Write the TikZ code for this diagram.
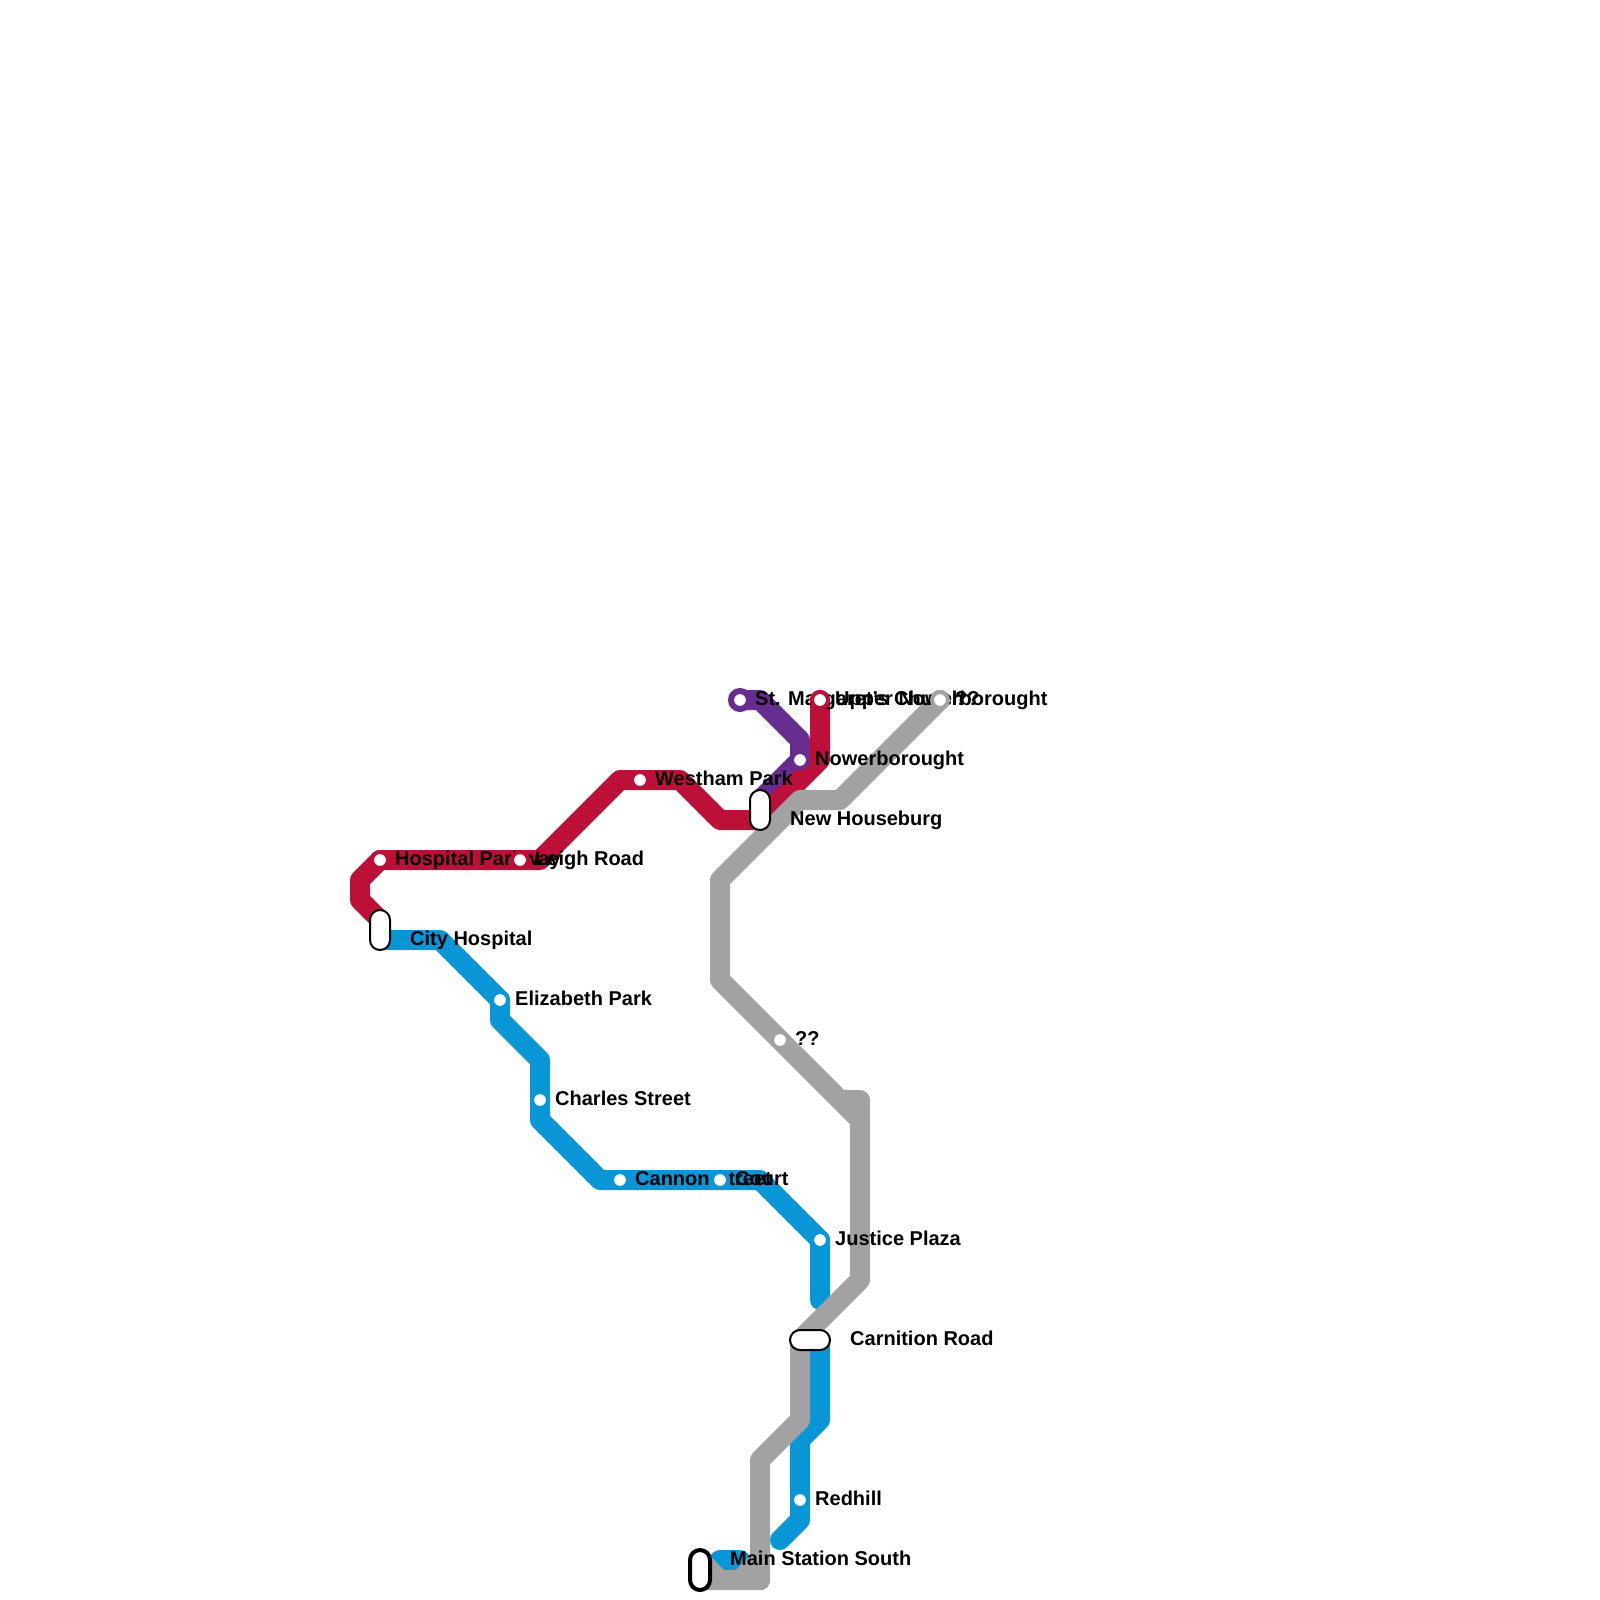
\documentclass[tikz,border=0pt]{standalone}
\usepackage{fontspec}
\setmainfont{Liberation Sans}
\definecolor{blueline}{HTML}{0896D7}
\definecolor{redline}{HTML}{BD1038}
\definecolor{purpleline}{HTML}{662C90}
\definecolor{grayline}{HTML}{A2A2A2}
\tikzset{
	metroline/.style = {line width = 20pt, line cap = round, line join = round},
	stationlabel/.style = {anchor = base west, inner sep = 0pt, font = \fontsize{20}{22}\selectfont\bfseries},
	stationdot/.style = {circle, fill = white, draw = #1, line width = 4pt, inner sep = 0pt, minimum size = 16pt},
	interchange/.style = {rectangle, rounded corners = 10pt, fill = white, draw = black, line width = 2pt, inner sep = 0pt},
}
\begin{document}
\begin{tikzpicture}[x = 1pt, y = -1pt]
	\useasboundingbox (0,0) rectangle (1600,1600);
	% stations and line ends
	\coordinate (margaret) at (740,700);
	\coordinate (upper) at (820,700);
	\coordinate (unknowntop) at (940,700);
	\coordinate (nower) at (800,760);
	\coordinate (westham) at (640,780);
	\coordinate (houseburg) at (760,810);
	\coordinate (hospitalpk) at (380,860);
	\coordinate (leigh) at (520,860);
	\coordinate (cityhosp) at (380,930);
	\coordinate (elizabeth) at (500,1000);
	\coordinate (unknownmid) at (780,1040);
	\coordinate (charles) at (540,1100);
	\coordinate (cannon) at (620,1180);
	\coordinate (court) at (720,1180);
	\coordinate (justice) at (820,1240);
	\coordinate (carnition) at (810,1340);
	\coordinate (redhill) at (800,1500);
	\coordinate (mainsouth) at (700,1570);
	\coordinate (bluecut) at (820,1300);
	\coordinate (blueend) at (780,1540);
	\coordinate (purpleend) at (760,800);
	\coordinate (redend) at (380,920);
	\coordinate (grayend) at (700,1580);
	% lines
	\draw[metroline, blueline] (cityhosp) -- (380,940) -- (440,940) -- (elizabeth) -- (500,1020) -- (540,1060) -- (charles) -- (540,1120) -- (600,1180) -- (cannon) -- (court) -- (760,1180) -- (justice) -- (bluecut);
	\draw[metroline, blueline] (820,1340) -- (820,1420) -- (800,1440) -- (redhill) -- (800,1520) -- (blueend);
	\draw[metroline, blueline] (grayend) -- (720,1560) -- (740,1560) -- (760,1580);
	\draw[metroline, purpleline] (margaret) -- (760,700) -- (800,740) -- (nower) -- (purpleend);
	\draw[metroline, redline] (upper) -- (820,760) -- (760,820) -- (720,820) -- (680,780) -- (westham) -- (620,780) -- (540,860) -- (leigh) -- (hospitalpk) -- (360,880) -- (360,900) -- (redend);
	\draw[metroline, grayline] (unknowntop) -- (840,800) -- (800,800) -- (720,880) -- (720,980) -- (unknownmid) -- (860,1120) -- (860,1280) -- (800,1340) -- (800,1420) -- (760,1460) -- (760,1580) -- (grayend);
	\draw[metroline, grayline] (840,1100) -- (860,1100) -- (860,1120);
	\draw[metroline, grayline] (760,1560) -- (740,1580);
	\draw[metroline, grayline] (700,1560) -- (720,1580);
	% labels
	\node[stationlabel] (margaretlabel) at (755,705) {St. Margaret's Church};
	\node[stationlabel] (upperlabel) at (835,705) {Upper Nowerborought};
	\node[stationlabel] (unknowntoplabel) at (955,705) {??};
	\node[stationlabel] (nowerlabel) at (815,765) {Nowerborought};
	\node[stationlabel] (westhamlabel) at (655,785) {Westham Park};
	\node[stationlabel] (houseburglabel) at (790,825) {New Houseburg};
	\node[stationlabel] (hospitalpklabel) at (395,865) {Hospital Parkway};
	\node[stationlabel] (leighlabel) at (535,865) {Leigh Road};
	\node[stationlabel] (cityhosplabel) at (410,945) {City Hospital};
	\node[stationlabel] (elizabethlabel) at (515,1005) {Elizabeth Park};
	\node[stationlabel] (unknownmidlabel) at (795,1045) {??};
	\node[stationlabel] (charleslabel) at (555,1105) {Charles Street};
	\node[stationlabel] (cannonlabel) at (635,1185) {Cannon Street};
	\node[stationlabel] (courtlabel) at (735,1185) {Court};
	\node[stationlabel] (justicelabel) at (835,1245) {Justice Plaza};
	\node[stationlabel] (carnitionlabel) at (850,1345) {Carnition Road};
	\node[stationlabel] (redhilllabel) at (815,1505) {Redhill};
	\node[stationlabel] (mainsouthlabel) at (730,1565) {Main Station South};
	% station markers, these sit on top of the labels
	\node[stationdot = purpleline, minimum size = 18pt, line width = 6pt] (margaretdot) at (margaret) {};
	\node[stationdot = redline] (upperdot) at (upper) {};
	\node[stationdot = grayline] (unknowntopdot) at (unknowntop) {};
	\node[stationdot = purpleline] (nowerdot) at (nower) {};
	\node[stationdot = redline] (westhamdot) at (westham) {};
	\node[stationdot = redline] (hospitalpkdot) at (hospitalpk) {};
	\node[stationdot = redline] (leighdot) at (leigh) {};
	\node[stationdot = blueline] (elizabethdot) at (elizabeth) {};
	\node[stationdot = grayline] (unknownmiddot) at (unknownmid) {};
	\node[stationdot = blueline] (charlesdot) at (charles) {};
	\node[stationdot = blueline] (cannondot) at (cannon) {};
	\node[stationdot = blueline] (courtdot) at (court) {};
	\node[stationdot = blueline] (justicedot) at (justice) {};
	\node[stationdot = blueline] (redhilldot) at (redhill) {};
	% interchanges
	\node[interchange, minimum width = 20pt, minimum height = 40pt] (houseburgbox) at (houseburg) {};
	\node[interchange, minimum width = 20pt, minimum height = 40pt] (cityhospbox) at (cityhosp) {};
	\node[interchange, minimum width = 40pt, minimum height = 20pt] (carnitionbox) at (carnition) {};
	\node[interchange, minimum width = 20pt, minimum height = 40pt, line width = 4pt] (mainsouthbox) at (mainsouth) {};
\end{tikzpicture}
\end{document}
